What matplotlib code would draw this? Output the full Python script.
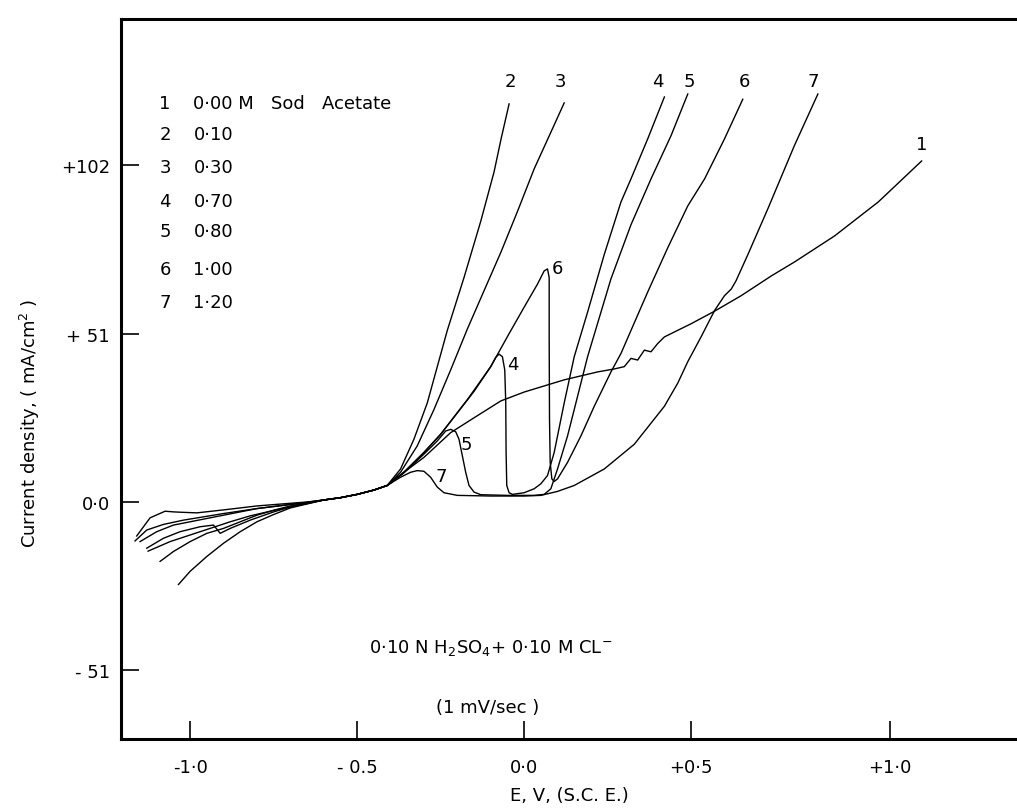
import numpy as np
import matplotlib.pyplot as plt

plt.rcParams['font.family'] = ['DejaVu Sans']

# shared cathodic-to-active section (all curves pass through it)
common_x = [-0.60, -0.55, -0.50, -0.45, -0.41]
common_y = [0.6, 1.3, 2.3, 3.6, 5.0]

# cathodic tails, one per curve
tail_x = [
    [-1.035, -1.00, -0.95, -0.90, -0.85, -0.80, -0.75, -0.70, -0.65],
    [-1.09, -1.05, -1.00, -0.95, -0.90, -0.85, -0.80, -0.75, -0.70, -0.65],
    [-1.13, -1.08, -1.03, -0.97, -0.93, -0.91, -0.88, -0.82, -0.75, -0.70, -0.65],
    [-1.15, -1.10, -1.05, -1.00, -0.95, -0.90, -0.85, -0.80, -0.70, -0.65],
    [-1.16, -1.12, -1.075, -1.05, -1.03, -0.98, -0.90, -0.80, -0.70, -0.65],
    [-1.165, -1.13, -1.08, -1.02, -0.96, -0.90, -0.80, -0.70, -0.65],
    [-1.126, -1.06, -1.00, -0.94, -0.88, -0.82, -0.76, -0.70, -0.65],
]
tail_y = [
    [-25.0, -21.0, -16.5, -12.5, -9.0, -6.0, -3.8, -1.8, -0.6],
    [-18.0, -15.0, -12.0, -9.5, -8.0, -6.0, -4.0, -2.5, -1.2, -0.3],
    [-14.0, -11.0, -9.0, -7.5, -7.0, -9.5, -8.0, -5.5, -3.0, -1.5, -0.5],
    [-12.0, -9.0, -7.0, -6.0, -5.0, -4.0, -3.0, -2.0, -0.8, -0.2],
    [-10.3, -4.8, -2.8, -3.0, -3.1, -3.3, -2.4, -1.2, -0.4, 0.0],
    [-11.8, -8.5, -6.8, -5.5, -4.5, -3.5, -2.0, -0.7, -0.1],
    [-14.9, -12.0, -10.0, -8.0, -6.0, -4.2, -2.8, -1.5, -0.4],
]

# anodic sections, E in V (SCE), i in mA/cm2
c1_x = [-0.36, -0.30, -0.22, -0.15, -0.07, 0.00, 0.12, 0.22, 0.27, 0.30, 0.32, 0.34, 0.36,
        0.38, 0.40, 0.42, 0.50, 0.559, 0.626, 0.702, 0.760, 0.861, 0.971, 1.080]
c1_y = [9.0, 13.5, 21.0, 25.5, 30.6, 33.3, 37.0, 39.4, 40.3, 41.0, 43.5, 43.0, 46.0,
        45.5, 48.0, 50.0, 54.0, 57.8, 62.5, 68.5, 72.7, 80.6, 90.9, 103.3]

c2_x = [-0.37, -0.33, -0.29, -0.26, -0.23, -0.18, -0.13, -0.09, -0.069, -0.045]
c2_y = [10.0, 19.0, 30.0, 41.0, 52.0, 68.0, 85.0, 100.0, 110.0, 120.6]

c3_x = [-0.37, -0.32, -0.27, -0.22, -0.17, -0.12, -0.069, -0.02, 0.03, 0.08, 0.12]
c3_y = [9.0, 17.0, 28.0, 40.0, 52.4, 64.0, 75.8, 88.0, 100.9, 112.0, 120.9]

c4_x = [-0.36, -0.30, -0.25, -0.20, -0.15, -0.10, -0.085, -0.075, -0.065, -0.058, -0.055,
        -0.054, -0.052, -0.045, -0.035, 0.00, 0.03, 0.05, 0.07, 0.09, 0.12, 0.15, 0.19,
        0.24, 0.29, 0.32, 0.37, 0.42]
c4_y = [9.0, 15.0, 20.5, 27.0, 33.5, 41.0, 43.8, 44.8, 44.0, 40.0, 30.0,
        15.0, 5.0, 2.8, 2.3, 2.8, 4.0, 5.5, 8.0, 15.0, 30.0, 44.0, 57.5,
        75.0, 90.9, 97.9, 110.0, 122.7]

c5_x = [-0.36, -0.30, -0.26, -0.235, -0.22, -0.205, -0.195, -0.185, -0.175, -0.165, -0.15,
        -0.13, -0.05, 0.03, 0.06, 0.08, 0.10, 0.13, 0.16, 0.19, 0.26, 0.32, 0.38, 0.44, 0.49]
c5_y = [8.8, 14.5, 18.5, 21.5, 22.0, 21.3, 19.0, 14.0, 9.0, 5.0, 3.0,
        2.2, 2.0, 2.0, 2.3, 4.0, 10.0, 20.0, 32.0, 44.0, 67.6, 84.0, 97.9, 111.0, 123.6]

c6_x = [-0.36, -0.30, -0.25, -0.17, -0.10, -0.045, 0.00, 0.04, 0.06, 0.07, 0.075,
        0.075, 0.076, 0.078, 0.083, 0.09, 0.10, 0.13, 0.17, 0.21, 0.26, 0.29, 0.37,
        0.43, 0.49, 0.534, 0.584, 0.630]
c6_y = [9.0, 15.0, 20.5, 31.0, 41.0, 51.0, 59.0, 66.0, 70.0, 70.6, 68.0,
        50.0, 25.0, 12.0, 7.0, 6.2, 7.0, 12.0, 20.0, 29.0, 39.4, 45.0, 63.6,
        77.0, 89.7, 97.9, 110.0, 122.0]

c7_x = [-0.37, -0.34, -0.32, -0.30, -0.28, -0.26, -0.24, -0.20, -0.10, 0.00, 0.05, 0.10,
        0.15, 0.24, 0.33, 0.42, 0.46, 0.49, 0.525, 0.559, 0.584, 0.601, 0.613, 0.643, 0.693,
        0.760, 0.819]
c7_y = [7.5, 9.0, 9.5, 9.3, 7.5, 4.5, 2.8, 2.0, 1.8, 1.8, 2.0, 3.2,
        5.0, 10.0, 17.5, 29.0, 36.0, 42.5, 50.0, 58.0, 62.5, 64.5, 67.0, 75.0, 88.8,
        108.0, 123.6]

anodic_x = [c1_x, c2_x, c3_x, c4_x, c5_x, c6_x, c7_x]
anodic_y = [c1_y, c2_y, c3_y, c4_y, c5_y, c6_y, c7_y]

curve_ids = ['1', '2', '3', '4', '5', '6', '7']
acetate = ['0·00 M   Sod   Acetate', '0·10', '0·30', '0·70', '0·80', '1·00', '1·20']

# curve numbers at the ends of the traces and at the active peaks
end_lab_x = [1.08, -0.04, 0.11, 0.40, 0.495, 0.634, 0.807]
end_lab_y = [108.5, 127.5, 127.5, 127.5, 127.5, 127.5, 127.5]
peak_lab = ['4', '5', '6', '7']
peak_lab_x = [-0.033, -0.174, 0.10, -0.249]
peak_lab_y = [41.8, 17.6, 71.0, 7.9]

xticks = [-1.0, -0.5, 0.0, 0.5, 1.0]
xtick_labels = ['-1·0', '- 0.5', '0·0', '+0·5', '+1·0']
yticks = [102, 51, 0, -51]
ytick_labels = ['+102', '+ 51', '0·0', '- 51']

# the potential axis is drawn with a wider division above +0.5 V
stretch = 1.19


def e_fwd(v):
    return np.interp(v, [-5.0, 0.5, 5.0], [-5.0, 0.5, 0.5 + 4.5 * stretch])


def e_inv(u):
    return np.interp(u, [-5.0, 0.5, 0.5 + 4.5 * stretch], [-5.0, 0.5, 5.0])


fig = plt.figure(figsize=(10.17, 8.12), dpi=100)
ax = fig.add_axes([0.119, 0.0887, 0.881, 0.887])
ax.set_xscale('function', functions=(e_fwd, e_inv))

for i in range(7):
    x = tail_x[i] + common_x + anodic_x[i]
    y = tail_y[i] + common_y + anodic_y[i]
    ax.plot(x, y, color='black', lw=1.0, solid_joinstyle='round')

fs = 13
for i in range(7):
    ax.text(end_lab_x[i], end_lab_y[i], curve_ids[i], fontsize=fs, ha='center', va='center')
for i in range(4):
    ax.text(peak_lab_x[i], peak_lab_y[i], peak_lab[i], fontsize=fs, ha='center', va='center')

# concentration key
key_y = [121.0, 111.5, 101.5, 91.2, 82.1, 70.6, 60.6]
for i in range(7):
    ax.text(-1.075, key_y[i], curve_ids[i], fontsize=fs, ha='center', va='center')
    ax.text(-0.99, key_y[i], acetate[i], fontsize=fs, ha='left', va='center')

ax.text(-0.10, -44, '0·10 N H$_2$SO$_4$+ 0·10 M CL$^{-}$', fontsize=fs, ha='center', va='center')
ax.text(-0.11, -62, '(1 mV/sec )', fontsize=fs, ha='center', va='center')

ax.set_xlim(-1.207, 1.32)
ax.set_ylim(-71.8, 146.4)
ax.set_xticks(xticks)
ax.set_xticklabels(xtick_labels, fontsize=fs)
ax.set_yticks(yticks)
ax.set_yticklabels(ytick_labels, fontsize=fs)
ax.tick_params(direction='in', length=13, width=1.2, pad=8)
ax.tick_params(axis='x', pad=14)
for side in ['left', 'bottom', 'top']:
    ax.spines[side].set_linewidth(2.2)
ax.spines['right'].set_visible(False)

ax.set_xlabel('E, V, (S.C. E.)', fontsize=fs, labelpad=7)
ax.set_ylabel('Current density, ( mA/cm$^2$ )', fontsize=fs)
ax.yaxis.set_label_coords(-0.088, 0.44)

fig.savefig('out.png', dpi=100)
